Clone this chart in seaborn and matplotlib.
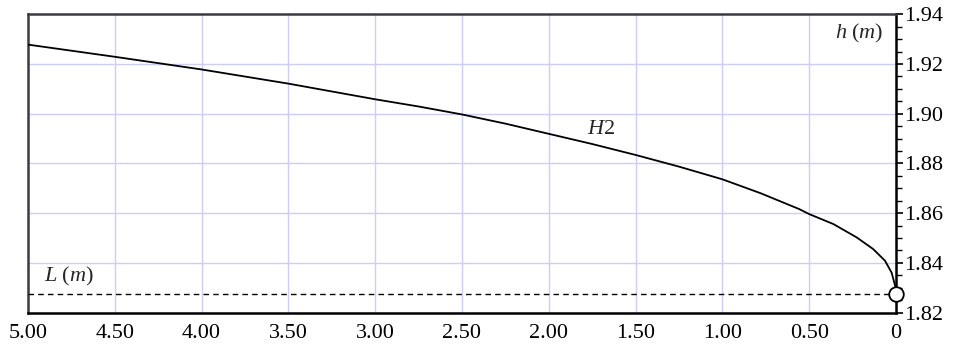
import numpy as np
import pandas as pd
import matplotlib
matplotlib.use("Agg")
import matplotlib.pyplot as plt
from matplotlib.ticker import MultipleLocator
import seaborn as sns

# Data
L_vals = [5.0, 4.5, 4.0, 3.5, 3.0, 2.75, 2.5, 2.25, 2.0, 1.75, 1.5, 1.25, 1.0, 0.78,
          0.557, 0.5, 0.361, 0.226, 0.131, 0.063, 0.025, 0.006, 0.0]
h_vals = [1.9278, 1.9229, 1.9178, 1.9121, 1.9058, 1.9029, 1.8997, 1.8960, 1.8919,
          1.8878, 1.8834, 1.8787, 1.8736, 1.8680, 1.8616, 1.8596, 1.8556, 1.8502,
          1.8455, 1.8408, 1.8360, 1.8310, 1.8296]
level_L = 1.8273
x_ticks = [5.0, 4.5, 4.0, 3.5, 3.0, 2.5, 2.0, 1.5, 1.0, 0.5, 0.0]
x_labels = ["5.00", "4.50", "4.00", "3.50", "3.00", "2.50", "2.00", "1.50", "1.00", "0.50", "0"]
y_ticks = [1.82, 1.84, 1.86, 1.88, 1.90, 1.92, 1.94]
y_labels = ["1.82", "1.84", "1.86", "1.88", "1.90", "1.92", "1.94"]

sns.set_theme(style="white")
plt.rcParams["font.family"] = ["Liberation Serif", "DejaVu Serif"]
plt.rcParams["mathtext.fontset"] = "custom"
plt.rcParams["mathtext.rm"] = "Liberation Serif"
plt.rcParams["mathtext.it"] = "Liberation Serif:italic"

df = pd.DataFrame({"L": L_vals, "h": h_vals})

fig = plt.figure(figsize=(9.54, 3.46), dpi=100)
ax = fig.add_axes([28/954, 1 - 312.5/346, (896 - 28)/954, (312.5 - 14.3)/346])

ax.set_xlim(5.0, 0.0)
ax.set_ylim(1.82, 1.94)

grid_c = "#ccccff"
for xv in x_ticks[1:-1]:
    ax.axvline(xv, color=grid_c, lw=1.0, zorder=0)
for yv in y_ticks[1:-1]:
    ax.axhline(yv, color=grid_c, lw=1.0, zorder=0)

sns.lineplot(data=df, x="L", y="h", ax=ax, color="black", lw=1.3, sort=False,
             estimator=None, zorder=3)
ax.axhline(level_L, color="black", lw=1.0, ls=(0, (4, 3)), zorder=3)
ax.plot([0.0], [level_L], marker="o", ms=10.5, mfc="white", mec="black", mew=1.3,
        clip_on=False, zorder=5)

ax.set_xticks(x_ticks)
ax.set_xticklabels(x_labels)
ax.xaxis.set_minor_locator(MultipleLocator(0.1))
ax.yaxis.tick_right()
ax.set_yticks(y_ticks)
ax.set_yticklabels(y_labels)
ax.yaxis.set_minor_locator(MultipleLocator(0.005))
ax.tick_params(axis="both", which="both", direction="out", color="black",
               labelsize=16, labelcolor="black")
ax.tick_params(axis="x", which="major", length=5, width=1.2, pad=3)
ax.tick_params(axis="x", which="minor", length=4, width=1.0)
ax.tick_params(axis="y", which="major", length=5, width=1.2, pad=1, right=True, left=False)
ax.tick_params(axis="y", which="minor", length=4, width=1.0, right=True, left=False)
ax.set_xlabel("")
ax.set_ylabel("")

for side in ["left", "top"]:
    ax.spines[side].set_color("#3a3a44")
    ax.spines[side].set_linewidth(1.8)
for side in ["bottom", "right"]:
    ax.spines[side].set_color("black")
    ax.spines[side].set_linewidth(1.8)

ax.text(0.21, 1.9324, r"$h\ (m)$", fontsize=16, ha="center", va="center")
ax.text(1.70, 1.8935, r"$H2$", fontsize=16, ha="center", va="center")
ax.text(4.764, 1.8343, r"$L\ (m)$", fontsize=16, ha="center", va="center")

fig.savefig("out.png", dpi=100)
